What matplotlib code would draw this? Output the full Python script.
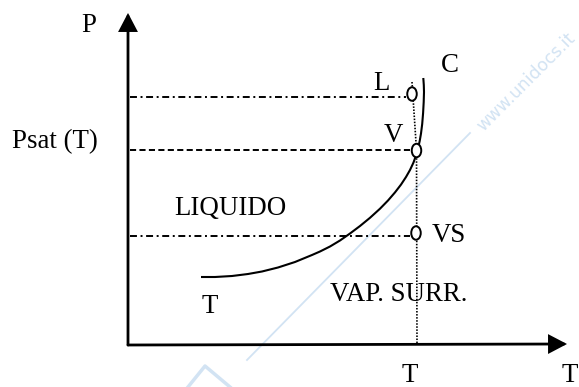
import matplotlib
matplotlib.use("Agg")
import matplotlib.pyplot as plt
from matplotlib.patches import Ellipse

plt.rcParams['lines.scale_dashes'] = False
plt.rcParams['font.family'] = ['Liberation Serif', 'DejaVu Serif']

# ---- data (diagram coordinates: T to the right, P downward in pixel-like units) ----
# saturation curve
curve_T = [201, 215, 232, 248, 262, 278, 295, 312, 320, 330, 340, 350, 360, 370,
           380, 388, 395, 401, 406, 410, 413.5, 416, 418, 419.7, 421, 422.2, 423.1,
           423.7, 424, 423.8, 423.3]
curve_P = [277, 277, 276, 274, 271.5, 267.5, 262, 255, 251.5, 246.5, 240.5, 233.5, 226, 217.8,
           208.7, 200.5, 192.4, 184.6, 177, 170, 162.5, 155.5, 148.5, 141, 133.5, 124, 113,
           102, 92, 85, 78]

# axes of the diagram
axis_origin = (128, 345)
axis_T_tip = (567, 344)
axis_P_tip = (128, 13)

# state points L, V, VS
state_names = ['L', 'V', 'VS']
state_T = [412, 416.5, 416]
state_P = [94, 150.5, 233]
state_line_P = [97, 150, 236]
state_line_end = [406, 410, 410]
state_line_style = ['dashdot', 'dashed', 'dashdot']

# isotherm (dotted vertical)
iso_T = [412, 416.5, 417]
iso_P = [82, 150, 344]

# labels: text, x, baseline y, alignment
labels = [
    ('P', 89, 32, 'center'),
    ('Psat (T)', 55, 148, 'center'),
    ('L', 381, 90, 'center'),
    ('C', 450, 72, 'center'),
    ('V', 393, 142, 'center'),
    ('VS', 449, 242, 'center'),
    ('LIQUIDO', 230, 215, 'center'),
    ('VAP. SURR.', 399, 301, 'center'),
    ('T', 210, 313, 'center'),
    ('T', 410, 382, 'center'),
    ('T', 562, 382, 'left'),
]

# watermark
wm_text = 'www.unidocs.it'
wm_line_T = [247, 470]
wm_line_P = [360, 133]
wm_logo_T = [188, 205, 230]
wm_logo_P = [387, 366, 387]

W, H = 579, 387
fig = plt.figure(figsize=(W / 100, H / 100), dpi=100)
ax = fig.add_axes([0, 0, 1, 1])
ax.set_xlim(0, W)
ax.set_ylim(H, 0)
ax.axis('off')

# watermark (faint)
wm_col = '#d2e3f3'
ax.plot(wm_line_T, wm_line_P, color=wm_col, lw=1.3, zorder=0)
ax.plot(wm_logo_T, wm_logo_P, color=wm_col, lw=2.5, zorder=0)
ax.text(526, 82, wm_text, rotation=45, color=wm_col, fontsize=12.5,
        family='DejaVu Sans', ha='center', va='center', zorder=0,
        rotation_mode='anchor')

# axes arrows
arrow_style = '-|>,head_length=10.5,head_width=5.5'
for tip in (axis_T_tip, axis_P_tip):
    ax.annotate('', xy=tip, xytext=axis_origin,
                arrowprops=dict(arrowstyle=arrow_style, mutation_scale=1,
                                lw=2.0, color='black', shrinkA=0, shrinkB=0,
                                joinstyle='miter'))

# horizontal reference lines
dash_map = {'dashdot': (5.0, 2.6, 1.4, 2.6), 'dashed': (4.4, 2.4)}
for p, xend, st in zip(state_line_P, state_line_end, state_line_style):
    ax.plot([axis_origin[0] + 2, xend], [p, p], color='black', lw=1.4,
            dashes=dash_map[st], solid_capstyle='butt', dash_capstyle='butt')

# dotted isotherm
ax.plot(iso_T, iso_P, color='black', lw=1.2, dashes=(1.1, 1.1))

# saturation curve
ax.plot(curve_T, curve_P, color='black', lw=1.5, solid_capstyle='butt',
        solid_joinstyle='round')

# state circles
for t, p in zip(state_T, state_P):
    ax.add_patch(Ellipse((t, p), 9.5, 13.5, facecolor='white', edgecolor='black',
                         lw=1.4, zorder=5))

# labels
for txt, x, y, ha in labels:
    ax.text(x, y, txt, fontsize=19.4, ha=ha, va='baseline', color='black')

fig.savefig('out.png', dpi=100)
